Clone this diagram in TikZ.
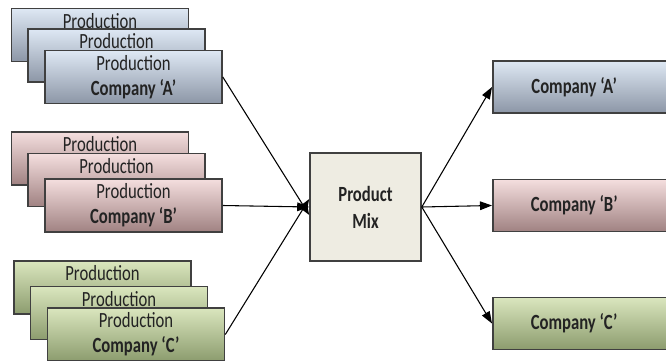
\documentclass[tikz,border=0pt]{standalone}
\usepackage{fontspec}
\setmainfont{Carlito}
\usetikzlibrary{arrows.meta}

\definecolor{blueTop}{RGB}{222,232,244}
\definecolor{blueMid}{RGB}{200,210,224}
\definecolor{blueBot}{RGB}{140,150,166}
\definecolor{pinkTop}{RGB}{244,222,222}
\definecolor{pinkMid}{RGB}{222,196,196}
\definecolor{pinkBot}{RGB}{160,130,130}
\definecolor{greenTop}{RGB}{218,230,190}
\definecolor{greenMid}{RGB}{196,210,166}
\definecolor{greenBot}{RGB}{140,156,110}
\definecolor{mixFill}{RGB}{238,236,226}
\definecolor{edgeGray}{RGB}{64,64,64}
\definecolor{textGray}{RGB}{35,35,35}

\newcommand{\tall}[1]{\scalebox{1}[1.3]{#1}}
\newcommand{\prodtext}[1]{\tall{Production}\\[3.75pt]\tall{#1}}

\tikzset{
  box/.style={draw=edgeGray, line width=1.2pt, minimum width=132.75pt, minimum height=39.75pt,
    align=center, inner sep=0pt, font=\fontsize{12.5}{15}\selectfont, text=textGray},
  bluebox/.style={box, top color=blueTop, middle color=blueMid, bottom color=blueBot},
  pinkbox/.style={box, top color=pinkTop, middle color=pinkMid, bottom color=pinkBot},
  greenbox/.style={box, top color=greenTop, middle color=greenMid, bottom color=greenBot},
  outbox/.style={minimum width=150pt, minimum height=39pt},
  flow/.style={line width=0.8pt, -{Triangle[length=9pt,width=6.5pt]}},
}

\begin{document}
\begin{tikzpicture}[x=0.75pt,y=0.75pt,yscale=-1,xscale=1]
	\useasboundingbox (0,0) rectangle (666,360);
	
	%Stack: Company A
	\node [bluebox] (backA) at (100,35) {\prodtext{\vphantom{Company}}};
	\node [bluebox] (midA) at (116.5,55.5) {\prodtext{\vphantom{Company}}};
	\node [bluebox] (frontA) at (133.5,77) {\prodtext{\textbf{Company `A'}}};
	
	%Stack: Company B
	\node [pinkbox] (backB) at (100,158.5) {\prodtext{\vphantom{Company}}};
	\node [pinkbox] (midB) at (116.5,180) {\prodtext{\vphantom{Company}}};
	\node [pinkbox] (frontB) at (133.5,205.5) {\prodtext{\textbf{Company `B'}}};
	
	%Stack: Company C
	\node [greenbox] (backC) at (102.5,287.5) {\prodtext{\vphantom{Company}}};
	\node [greenbox] (midC) at (119,313) {\prodtext{\vphantom{Company}}};
	\node [greenbox] (frontC) at (136,334.5) {\prodtext{\textbf{Company `C'}}};
	
	%Product mix
	\node [box, fill=mixFill, minimum width=83.25pt, minimum height=81pt] (mix) at (365.5,207) {\tall{\textbf{Product}}\\[5.25pt]\tall{\textbf{Mix}}};
	
	%Output boxes
	\node [bluebox, outbox, anchor=west] (outA) at (492,87) {\tall{\textbf{Company `A'}}\hspace*{28pt}};
	\node [pinkbox, outbox, anchor=west] (outB) at (492,205.5) {\tall{\textbf{Company `B'}}\hspace*{28pt}};
	\node [greenbox, outbox, anchor=west] (outC) at (492,323.5) {\tall{\textbf{Company `C'}}\hspace*{28pt}};
	
	%Arrows in
	\draw [flow] (frontA.east) -- ([yshift=6pt]mix.west);
	\draw [flow] (frontB.east) -- (mix.west);
	\draw [flow] (frontC.east) -- ([yshift=-6pt]mix.west);
	
	%Arrows out
	\draw [flow] (mix.east) -- (outA.west);
	\draw [flow] (mix.east) -- (outB.west);
	\draw [flow] (mix.east) -- (outC.west);
	
\end{tikzpicture}
\end{document}
